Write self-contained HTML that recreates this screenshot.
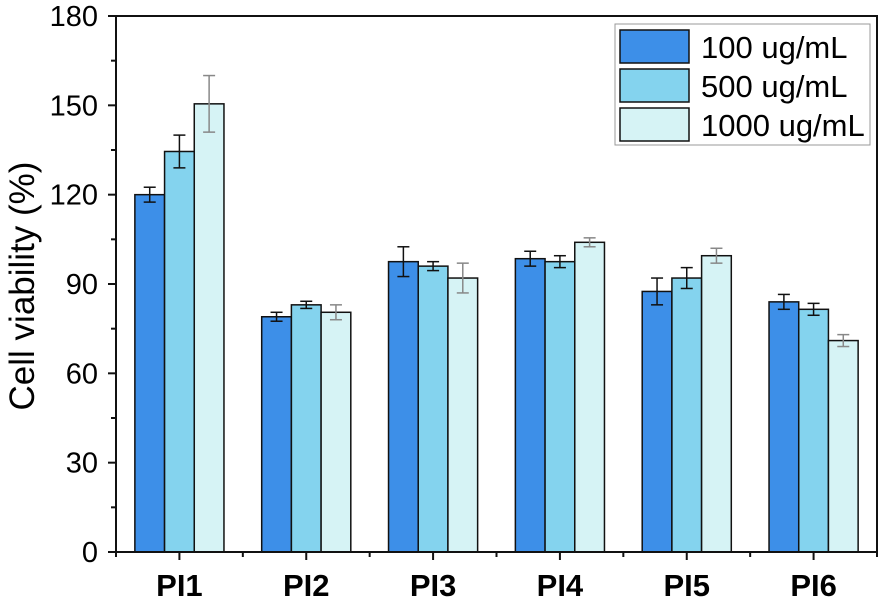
<!DOCTYPE html>
<html><head><meta charset="utf-8"><style>
body{margin:0;background:#fff}
svg{display:block;font-family:"Liberation Sans",Arial,sans-serif}
</style></head><body>
<svg id="chart" width="886" height="601" viewBox="0 0 886 601">
<g id="bars"></g>
<g id="axes"></g>
<g>
<rect x="615" y="24" width="255" height="121" fill="#fff" stroke="#999" stroke-width="1"/>
<g><rect x="620" y="30" width="69" height="33" fill="#3d8fe8" stroke="#111" stroke-width="1.5"/><text x="701" y="58" font-size="31">100 ug/mL</text></g>
<g><rect x="620" y="69" width="69" height="33" fill="#84d3ee" stroke="#111" stroke-width="1.5"/><text x="701" y="97" font-size="31">500 ug/mL</text></g>
<g><rect x="620" y="108" width="69" height="33" fill="#d6f3f5" stroke="#111" stroke-width="1.5"/><text x="701" y="136" font-size="31">1000 ug/mL</text></g>
</g>
<text transform="translate(34,286) rotate(-90)" text-anchor="middle" font-size="35">Cell viability (%)</text>
</svg>
<script>
const categories=["PI1","PI2","PI3","PI4","PI5","PI6"];
const s100=[120,79,97.5,98.5,87.5,84];
const s500=[134.5,83,96,97.5,92,81.5];
const s1000=[150.5,80.5,92,104,99.5,71];
const e100=[2.5,1.5,5,2.5,4.5,2.5];
const e500=[5.5,1.2,1.5,2,3.5,2];
const e1000=[9.5,2.5,5,1.5,2.5,2];
const yTicks=[0,30,60,90,120,150,180];
const L=116,R=877,T=16,B=552,yMax=180;
const NS="http://www.w3.org/2000/svg";
const y=v=>B-(v/yMax)*(B-T);
const band=(R-L)/categories.length;
const xc=i=>L+band*(i+0.5);
const bw=29.7;
function mk(tag,attrs,parent){const e=document.createElementNS(NS,tag);for(const k in attrs)e.setAttribute(k,attrs[k]);parent.appendChild(e);return e;}
const bars=document.getElementById('bars'),axes=document.getElementById('axes');
const series=[[s100,e100,"#3d8fe8","#111","100"],[s500,e500,"#84d3ee","#111","500"],[s1000,e1000,"#d6f3f5","#888","1000"]];
categories.forEach((c,i)=>{
 series.forEach((s,j)=>{
  const v=s[0][i],e=s[1][i];
  const x0=xc(i)+(j-1.5)*bw;
  const r=mk('rect',{x:x0,y:y(v),width:bw,height:B-y(v),fill:s[2],stroke:'#111','stroke-width':1.5},bars);
  
  
  const cx=x0+bw/2,g=mk('g',{stroke:s[3],'stroke-width':1.5},bars);
  
  
  mk('line',{x1:cx,x2:cx,y1:y(v+e),y2:y(v-e)},g);
  mk('line',{x1:cx-6,x2:cx+6,y1:y(v+e),y2:y(v+e)},g);
  mk('line',{x1:cx-6,x2:cx+6,y1:y(v-e),y2:y(v-e)},g);
 });
 const t=mk('text',{x:xc(i),y:596,'text-anchor':'middle','font-size':31,'font-weight':'bold'},axes);
 t.textContent=c;
 
 
 mk('line',{x1:xc(i),x2:xc(i),y1:B,y2:B+8,stroke:'#111','stroke-width':2},axes);
});
for(let i=0;i<=categories.length;i++)mk('line',{x1:L+band*i,x2:L+band*i,y1:B,y2:B+5,stroke:'#111','stroke-width':2},axes);
yTicks.forEach((v,i)=>{
 mk('line',{x1:L-8,x2:L,y1:y(v),y2:y(v),stroke:'#111','stroke-width':2},axes);
 if(i<yTicks.length-1){const m=v+15;mk('line',{x1:L-5,x2:L,y1:y(m),y2:y(m),stroke:'#111','stroke-width':2},axes);}
 const t=mk('text',{x:L-18,y:y(v)+10,'text-anchor':'end','font-size':29},axes);
 t.textContent=v;
 
 
});
const f=mk('rect',{x:L,y:T,width:R-L,height:B-T,fill:'none',stroke:'#111','stroke-width':2},axes);


</script>
</body></html>
